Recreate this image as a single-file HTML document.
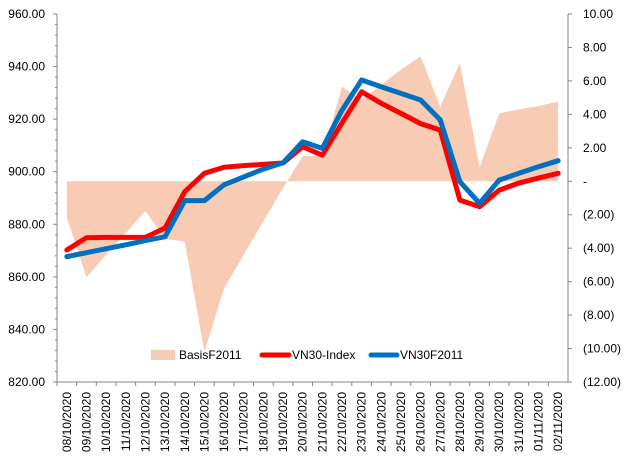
<!DOCTYPE html>
<html><head><meta charset="utf-8"><style>
body{margin:0;background:#fff;}
svg{display:block;font-family:"Liberation Sans",Arial,sans-serif;}
</style></head><body>
<svg id="chart" width="629" height="459" viewBox="0 0 629 459"></svg>
<script>
const categories=["08/10/2020","09/10/2020","10/10/2020","11/10/2020","12/10/2020","13/10/2020","14/10/2020","15/10/2020","16/10/2020","17/10/2020","18/10/2020","19/10/2020","20/10/2020","21/10/2020","22/10/2020","23/10/2020","24/10/2020","25/10/2020","26/10/2020","27/10/2020","28/10/2020","29/10/2020","30/10/2020","31/10/2020","01/11/2020","02/11/2020"];
const vn30Index=[870.2,874.9,875,875,875,878.6,892.4,899.4,901.7,902.3,902.8,903.3,909.5,906.3,918.5,930.4,926,922.2,918.3,915.8,889.2,886.7,893,895.7,897.6,899.4];
const vn30F2011=[867.7,869.2,870.7,872.2,873.8,875.3,889,889,895,898,901,903.4,911.4,908.9,923.4,934.9,932.3,929.8,927.3,919.7,896.2,888,896.8,899.4,901.9,904.2];
const basisF2011=[-2.17,-5.74,-4.4,-3.1,-1.77,-3.45,-3.6,-10.2,-6.4,-4.4,-2.4,-0.4,1.5,1.5,5.66,4.86,5.76,6.67,7.47,4.46,7.07,0.84,4.06,4.3,4.5,4.76];
const leftTicks=[820,840,860,880,900,920,940,960];
const rightTicks=[-12,-10,-8,-6,-4,-2,0,2,4,6,8,10];
const rightTickLabels=["(12.00)","(10.00)","(8.00)","(6.00)","(4.00)","(2.00)","-","2.00","4.00","6.00","8.00","10.00"];

const NS="http://www.w3.org/2000/svg";
const svg=document.getElementById('chart');
const X0=57,X1=568,YT=14,YB=382;
const step=(X1-X0)/categories.length;
const x=i=>X0+step*(i+0.5);
const yL=v=>YB-(v-820)/(960-820)*(YB-YT);
const yR=v=>YB-(v+12)/22*(YB-YT);
function mk(t,a,p){const e=document.createElementNS(NS,t);for(const k in a)e.setAttribute(k,a[k]);(p||svg).appendChild(e);return e;}

let d=`M${x(0)},${yR(0)}`;
basisF2011.forEach((v,i)=>d+=`L${x(i)},${yR(v)}`);
d+=`L${x(basisF2011.length-1)},${yR(0)}Z`;
const area=mk('path',{d,fill:'#F8CBB5',stroke:'none'});



const ax=mk('g',{stroke:'#868686','stroke-width':1,fill:'none'});


mk('line',{x1:X0,y1:YT,x2:X0,y2:YB},ax);
mk('line',{x1:X1,y1:YT,x2:X1,y2:YB},ax);
mk('line',{x1:X0,y1:YB,x2:X1,y2:YB},ax);
leftTicks.forEach((v,i)=>{
  mk('line',{x1:X0-4,y1:yL(v),x2:X0,y2:yL(v)},ax);
  if(i<leftTicks.length-1)for(let k=1;k<5;k++){const yy=yL(v)-k*(yL(820)-yL(840))/5;mk('line',{x1:X0-2,y1:yy,x2:X0,y2:yy},ax);}
  const t=mk('text',{x:X0-12,y:yL(v)+4,'text-anchor':'end','font-size':12,fill:'#000'});
  t.textContent=v.toFixed(2);
  
  
});
rightTicks.forEach((v,i)=>{
  mk('line',{x1:X1,y1:yR(v),x2:X1+4,y2:yR(v)},ax);
  const t=mk('text',{x:X1+15,y:yR(v)+4,'font-size':12,fill:'#000'});
  t.textContent=rightTickLabels[i];
  
  
});
categories.forEach((c,i)=>{
  mk('line',{x1:X0+step*i,y1:YB,x2:X0+step*i,y2:YB+4},ax);
  const t=mk('text',{transform:`translate(${x(i)+4},${YB+10}) rotate(-90)`,'text-anchor':'end','font-size':12,fill:'#000'});
  t.textContent=c;
  
  
});
mk('line',{x1:X1,y1:YB,x2:X1+4,y2:YB},ax);

function line(arr,color,name){
  const p=mk('polyline',{points:arr.map((v,i)=>`${x(i)},${yL(v)}`).join(' '),fill:'none',stroke:color,'stroke-width':5,'stroke-linejoin':'round','stroke-linecap':'round'});
  
  
}
line(vn30Index,'#FF0000','vn30-index-line');
line(vn30F2011,'#0070C0','vn30f2011-line');

const lg=mk('g',{'font-size':12,fill:'#000'});


const e1=mk('g',{},lg);


mk('rect',{x:151,y:350,width:24,height:10,fill:'#F8CBB5'},e1);
mk('text',{x:179,y:359},e1).textContent='BasisF2011';
const e2=mk('g',{},lg);


mk('line',{x1:262,y1:355,x2:289,y2:355,stroke:'#FF0000','stroke-width':5,'stroke-linecap':'round'},e2);
mk('text',{x:292,y:359},e2).textContent='VN30-Index';
const e3=mk('g',{},lg);


mk('line',{x1:371,y1:355,x2:397,y2:355,stroke:'#0070C0','stroke-width':5,'stroke-linecap':'round'},e3);
mk('text',{x:400,y:359},e3).textContent='VN30F2011';
</script>
</body></html>
